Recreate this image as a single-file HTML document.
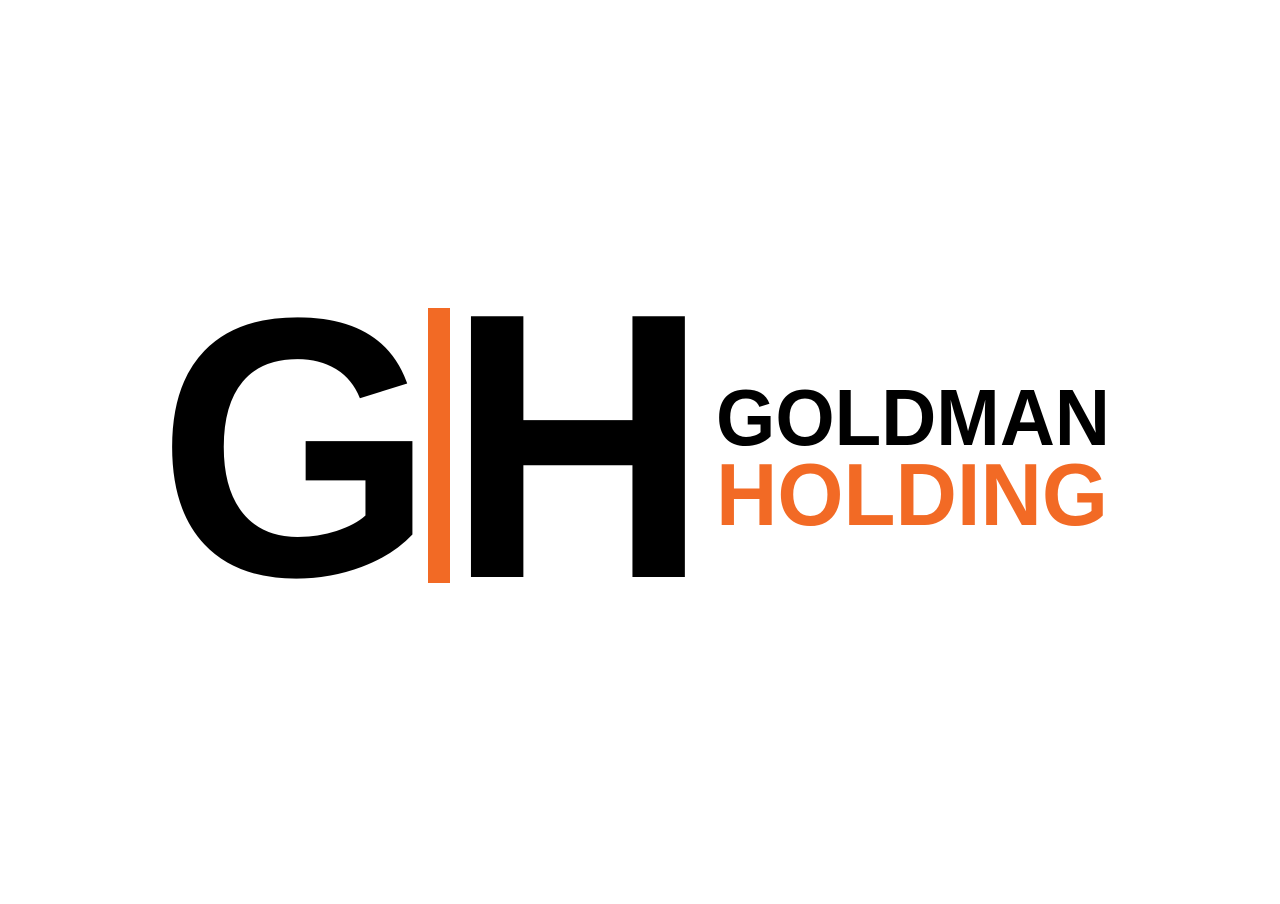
<!DOCTYPE html>
<html>
<head>
<meta charset="utf-8">
<style>
html,body{margin:0;padding:0;background:#fff;}
svg{display:block;}
</style>
</head>
<body>
<svg width="1280" height="904" viewBox="0 0 1280 904">
  <rect x="0" y="0" width="1280" height="904" fill="#ffffff"/>
  <g transform="translate(296,575) scale(0.965,1)">
    <text x="0" y="0" text-anchor="middle" font-family="'Liberation Sans', sans-serif" font-weight="700" font-size="369" fill="#000">G</text>
  </g>
  <rect x="428" y="308" width="22" height="275" fill="#f26a25"/>
  <g transform="translate(578,577) scale(0.96,1)">
    <text x="0" y="0" text-anchor="middle" font-family="'Liberation Sans', sans-serif" font-weight="700" font-size="379" fill="#000">H</text>
  </g>
  <text x="716" y="445" textLength="394" lengthAdjust="spacingAndGlyphs" font-family="'Liberation Sans', sans-serif" font-weight="700" font-size="80" fill="#000">GOLDMAN</text>
  <text x="716" y="525" textLength="392" lengthAdjust="spacingAndGlyphs" font-family="'Liberation Sans', sans-serif" font-weight="700" font-size="88" fill="#f26a25">HOLDING</text>
</svg>
</body>
</html>
